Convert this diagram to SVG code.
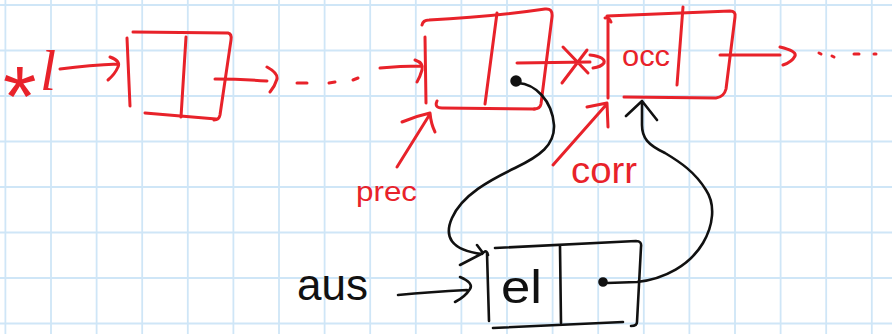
<svg xmlns="http://www.w3.org/2000/svg" width="892" height="334" viewBox="0 0 892 334">
  <style>
    .grid { stroke: #cfe6f7; stroke-width: 1.8; fill: none; }
    .red { stroke: #e8222a; stroke-width: 3; fill: none; stroke-linecap: round; stroke-linejoin: round; }
    .blk { stroke: #111; stroke-width: 2.6; fill: none; stroke-linecap: round; stroke-linejoin: round; }
    .tred { fill: #e8222a; font-family: "Liberation Sans", "DejaVu Sans", sans-serif; }
    .tblk { fill: #111; font-family: "Liberation Sans", "DejaVu Sans", sans-serif; }
  </style>

  <!-- squared paper -->
  <rect x="0" y="0" width="892" height="334" fill="#ffffff"/>
  <path class="grid" d="M5.4,0V334 M51,0V334 M96.6,0V334 M142.2,0V334 M187.8,0V334 M233.4,0V334 M279,0V334 M324.6,0V334 M370.2,0V334 M415.8,0V334 M461.4,0V334 M507,0V334 M552.6,0V334 M598.2,0V334 M643.8,0V334 M689.4,0V334 M735,0V334 M780.6,0V334 M826.2,0V334 M871.8,0V334
    M0,5H892 M0,50.5H892 M0,96H892 M0,141.5H892 M0,187H892 M0,232.5H892 M0,278H892 M0,323.5H892"/>

  <!-- head pointer label -->
  <g id="head">
    <text class="tred"><tspan x="3" y="126" font-size="86">*</tspan><tspan x="40" y="90" font-size="58" font-style="italic" font-family="Liberation Serif, serif">l</tspan></text>
  </g>

  <!-- first list node -->
  <g id="node1">
    <path class="red" d="M127,38 L130,106"/>
    <path class="red" d="M133,32 L228,33 Q232,34 231,40 L220,115 Q219,120 214,120"/>
    <path class="red" d="M145,113 L216,119"/>
    <path class="red" d="M186,37 L181,117"/>
  </g>

  <!-- node before the occurrence -->
  <g id="node2">
    <path class="red" d="M425,37 L426,103"/>
    <path class="red" d="M422,25 Q423,20 429,20 Q490,17 545,9 Q553,8 552,17 L541,104 Q540,109 534,109"/>
    <path class="red" d="M437,101 Q434,108 442,108 L535,109"/>
    <path class="red" d="M497,13 L485,104"/>
  </g>

  <!-- node holding the occurrence -->
  <g id="node3">
    <path class="red" d="M605,18 Q609,17 611,22 M608,18 L608,98"/>
    <path class="red" d="M607,16 L730,11 Q736,11 735,17 L726,89 Q724,97 716,98 L624,97"/>
    <path class="red" d="M683,7 L677,85"/>
    <text class="tred" x="622" y="66" font-size="30" textLength="48" lengthAdjust="spacingAndGlyphs">occ</text>
  </g>

  <!-- labels of the red pointers -->
  <g id="prec">
    <text class="tred" x="356" y="201" font-size="28" textLength="61" lengthAdjust="spacingAndGlyphs">prec</text>
  </g>
  <g id="corr">
    <text class="tred" x="571" y="183" font-size="36" textLength="66" lengthAdjust="spacingAndGlyphs">corr</text>
  </g>

  <!-- new element -->
  <g id="aus">
    <text class="tblk" x="297" y="300" font-size="44" textLength="71" lengthAdjust="spacingAndGlyphs">aus</text>
  </g>
  <g id="newnode">
    <path class="blk" d="M484,252 Q487,250 488,255 M487,253 L489,321"/>
    <path class="blk" d="M495,248 L636,241 Q642,241 641,247 L637,322 Q637,326 631,326"/>
    <path class="blk" d="M560,246 L561,323"/>
    <path class="blk" d="M493,328 L623,322"/>
    <text class="tblk" x="501" y="303" font-size="46" textLength="41" lengthAdjust="spacingAndGlyphs">el</text>
    <circle cx="603" cy="282" r="3.8" fill="#111" stroke="#111" stroke-width="2"/>
  </g>

  <!-- connectors -->
  <g id="connectors">
    <!-- red list links -->
    <path class="red" d="M60,69 Q90,65 118,64 M110,57 Q121,61 118,67 Q115,74 108,80"/>
    <path class="red" d="M215,79 Q240,79 267,81 M267,67 Q278,73 277,79 Q275,86 270,92"/>
    <path class="red" d="M297,83 L307,83 M329,83 L335,82 M353,80 L358,78"/>
    <path class="red" d="M380,68 Q400,66 421,66 M415,60 Q424,63 422,70 Q420,77 417,82"/>
    <path class="red" d="M517,63 L590,62 M563,47 L588,73 M587,50 L562,83 M590,55 Q606,57 604,63 Q601,67 593,68"/>
    <path class="red" d="M720,55 L780,55 M780,47 Q797,51 795,56 Q792,62 783,65"/>
    <path class="red" d="M819,53 L821,54 M832,56 L834,57 M854,54 L859,54 M874,54 L876,54"/>
    <!-- prec / corr pointers -->
    <path class="red" d="M397,167 L430,114 M402,122 Q416,116 430,113 Q431,124 435,132"/>
    <path class="red" d="M553,165 L606,105 M587,107 L607,103 L608,127"/>

    <!-- black pointers -->
    <circle cx="516" cy="81" r="4.5" fill="#111" stroke="#111" stroke-width="2.5"/>
    <path class="blk" d="M518,83 C535,84 552,100 554,125 C555,145 540,156 515,168 C490,180 462,195 452,218 C444,236 450,250 482,254 M477,245 L483,253 L460,265"/>
    <path class="blk" d="M607,283 L637,282 C665,279 690,265 703,243 C713,226 716,205 706,190 C695,172 680,162 665,153 C648,145 642,138 642,125 L642,102 M626,116 L642,101 L657,120"/>
    <path class="blk" d="M398,295 Q430,292 467,290 M460,277 Q474,283 470,289 Q465,297 455,302"/>
  </g>
</svg>
